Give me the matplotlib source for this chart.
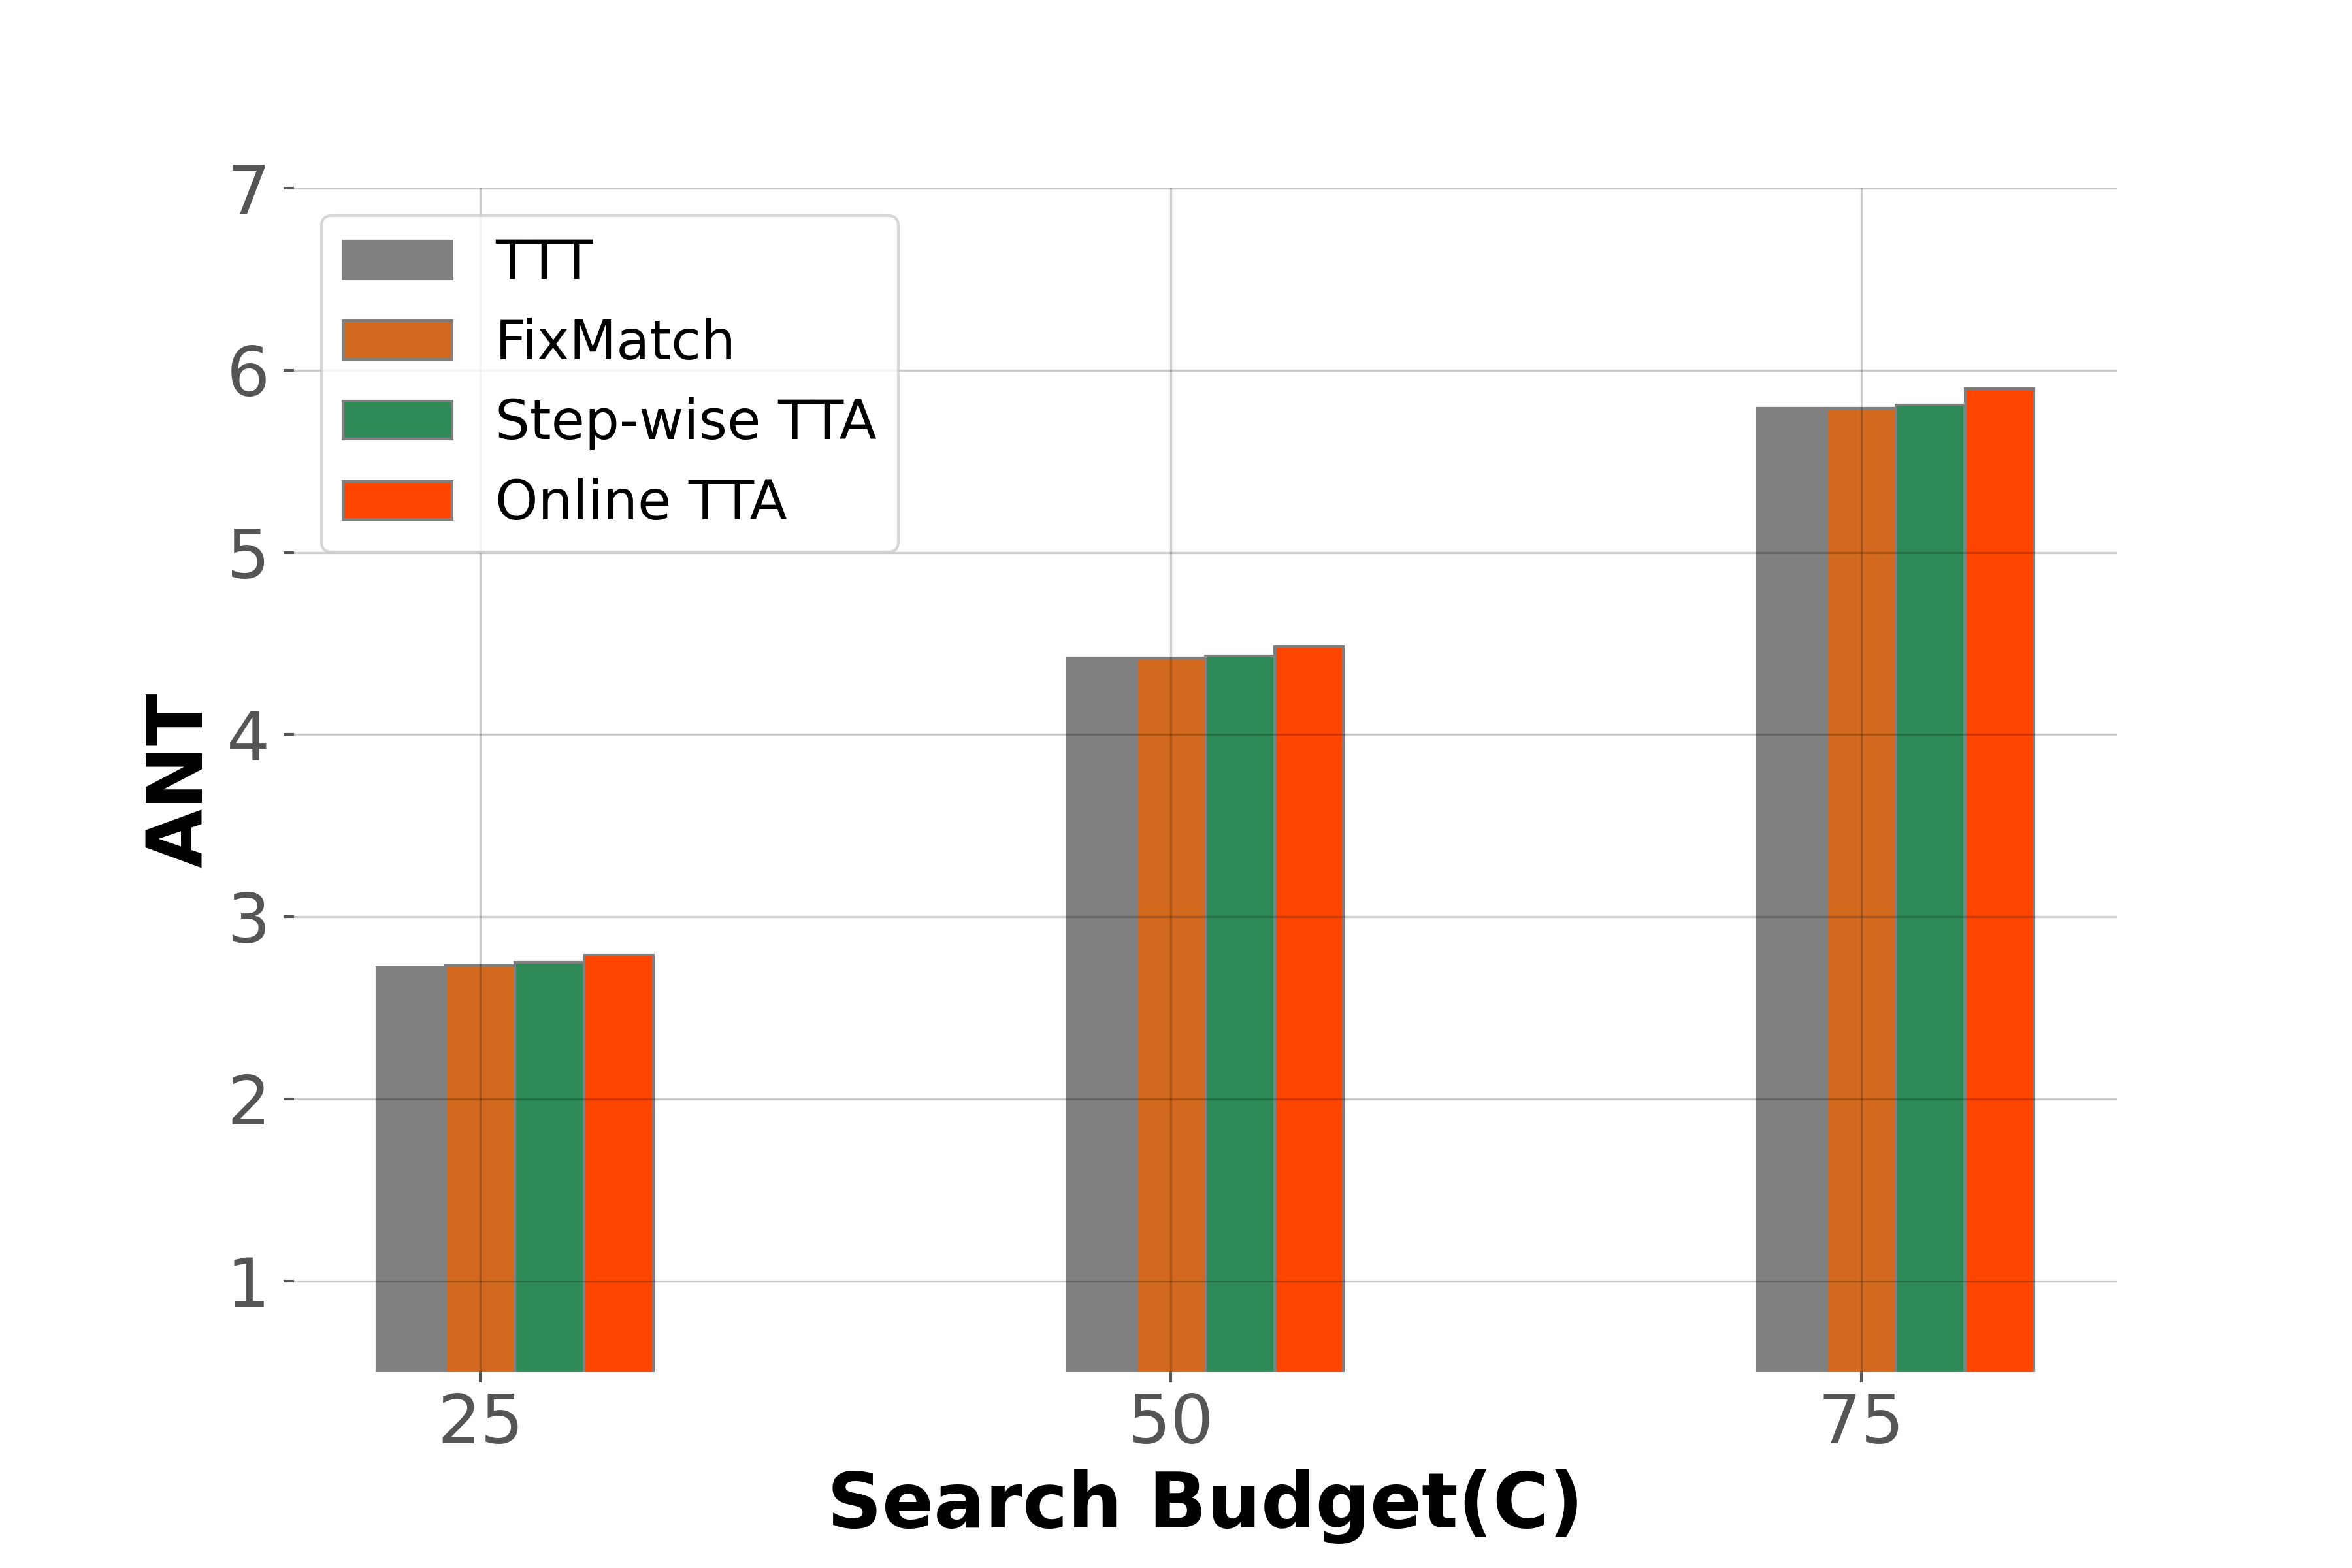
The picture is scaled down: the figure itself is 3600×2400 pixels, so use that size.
import numpy as np
import matplotlib
matplotlib.use('Agg')
import matplotlib.pyplot as plt

# дані
budgets = [25, 50, 75]
methods = ['TTT', 'FixMatch', 'Step-wise TTA', 'Online TTA']
ttt = [2.72, 4.42, 5.79]
fixmatch = [2.73, 4.42, 5.79]
stepwise = [2.75, 4.43, 5.81]
online = [2.79, 4.48, 5.90]
colors = ['grey', 'chocolate', 'seagreen', 'orangered']

series = [ttt, fixmatch, stepwise, online]
width = 2.5

fig, ax = plt.subplots(figsize=(12, 8), dpi=300)
fig.subplots_adjust(bottom=0.125, top=0.88)

x = np.array(budgets)
for i, (vals, name, c) in enumerate(zip(series, methods, colors)):
    ax.bar(x + (i - 1) * width, vals, width, color=c, edgecolor='grey',
           linewidth=1, label=name)

ax.set_ylim(0.5, 7)
ax.set_yticks([1, 2, 3, 4, 5, 6, 7])
ax.set_xticks(budgets)

ax.grid(True, color='k', alpha=0.2, linewidth=0.8)
ax.set_axisbelow(False)
for s in ax.spines.values():
    s.set_visible(False)

ax.tick_params(axis='both', labelsize=25, colors='#555555', length=3.8, width=1)
ax.tick_params(axis='y', pad=5)
ax.tick_params(axis='x', pad=3.5)
ax.set_xlabel('Search Budget(C)', fontsize=28, fontweight='bold')
ax.set_ylabel('ANT', fontsize=28, fontweight='bold', labelpad=3)

ax.legend(loc='upper left', fontsize=20)

plt.savefig('out.png', dpi=300)
